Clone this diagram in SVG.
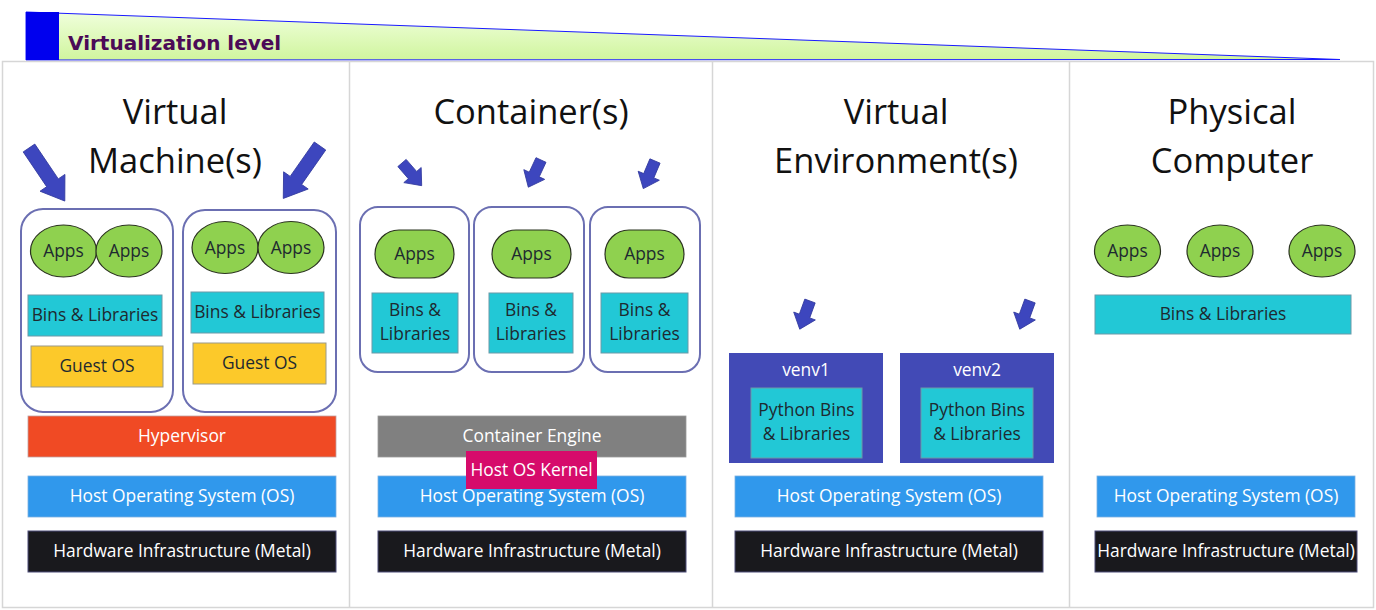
<svg xmlns="http://www.w3.org/2000/svg" width="1376" height="610" viewBox="0 0 1376 610">
<defs>
<linearGradient id="lvl" x1="0" y1="0" x2="0" y2="1">
<stop offset="0" stop-color="#f0ffdc"/>
<stop offset="1" stop-color="#d0f59e"/>
</linearGradient>
<path id="bigArrow" d="M0,-7 L42,-7 L42,-15 L64,0 L42,15 L42,7 L0,7 Z"/>
<path id="smallArrow" d="M0,-5.5 L16,-5.5 L16,-11.5 L30,0 L16,11.5 L16,5.5 L0,5.5 Z"/>
</defs>
<style>
.title{font-family:"Open Sans","Liberation Sans",sans-serif;font-size:34.5px;fill:#111;text-anchor:middle}
.lbl{font-family:"Open Sans","Liberation Sans",sans-serif;font-size:17.4px;fill:#1e2a30;text-anchor:middle}
.wlbl{font-family:"Open Sans","Liberation Sans",sans-serif;font-size:17.4px;fill:#ffffff;text-anchor:middle}
.apps{fill:#8fd14f;stroke:#2b3320;stroke-width:1.2}
.bins{fill:#22c8d6;stroke:#6a9aa8;stroke-width:1}
.guest{fill:#fcc92a;stroke:#9a9a8a;stroke-width:1}
.hyper{fill:#f04a24;stroke:#c0a0a0;stroke-width:0.8}
.hostos{fill:#3098ec;stroke:#7ab0e0;stroke-width:0.8}
.metal{fill:#19191d;stroke:#4c4c78;stroke-width:1}
.engine{fill:#808080;stroke:#9a9a9a;stroke-width:0.8}
.kernel{fill:#d60b6b}
.venv{fill:#424ab6}
.cbox{fill:none;stroke:#6b6fb2;stroke-width:2}
.arrow{fill:#3d46be;stroke:#323a9e;stroke-width:0.8}
.panel{fill:#ffffff;stroke:#d6d6d6;stroke-width:1.5}
</style>

<g id="virtualization-level">
<polygon points="26,12 1340,59.5 26,60" fill="url(#lvl)" stroke="#1a1aff" stroke-width="1"/>
<rect x="26" y="12" width="33" height="48" fill="#0000ee"/>
<text x="68" y="50" font-family="DejaVu Sans, sans-serif" font-weight="bold" font-size="20" fill="#4b0a57">Virtualization level</text>
</g>

<g id="panels">
<rect class="panel" x="2.5" y="61.5" width="1371" height="546"/>
<line x1="349.5" y1="61.5" x2="349.5" y2="607.5" stroke="#d6d6d6" stroke-width="1.5"/>
<line x1="712.5" y1="61.5" x2="712.5" y2="607.5" stroke="#d6d6d6" stroke-width="1.5"/>
<line x1="1069.5" y1="61.5" x2="1069.5" y2="607.5" stroke="#d6d6d6" stroke-width="1.5"/>
</g>

<g id="titles">
<text class="title" x="175" y="124">Virtual</text>
<text class="title" x="175" y="173">Machine(s)</text>
<text class="title" x="531" y="124">Container(s)</text>
<text class="title" x="896" y="124">Virtual</text>
<text class="title" x="896" y="173">Environment(s)</text>
<text class="title" x="1232" y="124">Physical</text>
<text class="title" x="1232" y="173">Computer</text>
</g>

<!-- Virtual Machines -->
<g id="vm1">
<rect class="cbox" x="21" y="209" width="152" height="203" rx="22"/>
<ellipse class="apps" cx="63.5" cy="251" rx="33" ry="26"/>
<text class="lbl" x="63.5" y="257">Apps</text>
<ellipse class="apps" cx="129" cy="251" rx="33" ry="26"/>
<text class="lbl" x="129" y="257">Apps</text>
<rect class="bins" x="28" y="295" width="134" height="41"/>
<text class="lbl" x="95" y="321">Bins &amp; Libraries</text>
<rect class="guest" x="31" y="346" width="132" height="41"/>
<text class="lbl" x="97" y="372">Guest OS</text>
</g>
<g id="vm2">
<rect class="cbox" x="183" y="210" width="153" height="202" rx="22"/>
<ellipse class="apps" cx="225" cy="247.5" rx="33" ry="26"/>
<text class="lbl" x="225" y="253.5">Apps</text>
<ellipse class="apps" cx="291" cy="247.5" rx="33" ry="26"/>
<text class="lbl" x="291" y="253.5">Apps</text>
<rect class="bins" x="191" y="292" width="133" height="41"/>
<text class="lbl" x="257.5" y="318">Bins &amp; Libraries</text>
<rect class="guest" x="193" y="343" width="133" height="41"/>
<text class="lbl" x="259.5" y="369">Guest OS</text>
</g>
<g id="hypervisor">
<rect class="hyper" x="28" y="416" width="308" height="41"/>
<text class="wlbl" x="182" y="442">Hypervisor</text>
</g>
<g id="vm-hostos">
<rect class="hostos" x="28" y="476" width="308" height="41"/>
<text class="wlbl" x="182" y="502">Host Operating System (OS)</text>
</g>
<g id="vm-metal">
<rect class="metal" x="28" y="531" width="308" height="41"/>
<text class="wlbl" x="182" y="557">Hardware Infrastructure (Metal)</text>
</g>

<!-- Containers -->
<g id="container1">
<rect class="cbox" x="360" y="207" width="109" height="165" rx="18"/>
<rect class="apps" x="375" y="230" width="79" height="48" rx="24"/>
<text class="lbl" x="414.5" y="260">Apps</text>
<rect class="bins" x="372" y="293" width="86" height="60"/>
<text class="lbl" x="415" y="316">Bins &amp;</text>
<text class="lbl" x="415" y="340">Libraries</text>
</g>
<g id="container2">
<rect class="cbox" x="474" y="207" width="110" height="165" rx="18"/>
<rect class="apps" x="492" y="230" width="79" height="48" rx="24"/>
<text class="lbl" x="531.5" y="260">Apps</text>
<rect class="bins" x="489" y="293" width="84" height="60"/>
<text class="lbl" x="531" y="316">Bins &amp;</text>
<text class="lbl" x="531" y="340">Libraries</text>
</g>
<g id="container3">
<rect class="cbox" x="590" y="207" width="110" height="165" rx="18"/>
<rect class="apps" x="605" y="230" width="79" height="48" rx="24"/>
<text class="lbl" x="644.5" y="260">Apps</text>
<rect class="bins" x="601" y="293" width="87" height="60"/>
<text class="lbl" x="644.5" y="316">Bins &amp;</text>
<text class="lbl" x="644.5" y="340">Libraries</text>
</g>
<g id="container-engine">
<rect class="engine" x="378" y="416" width="308" height="41"/>
<text class="wlbl" x="532" y="442">Container Engine</text>
</g>
<g id="container-hostos">
<rect class="hostos" x="378" y="476" width="308" height="41"/>
<text class="wlbl" x="532" y="502">Host Operating System (OS)</text>
</g>
<g id="host-os-kernel">
<rect class="kernel" x="466" y="451" width="131" height="38"/>
<text class="wlbl" x="531.5" y="476">Host OS Kernel</text>
</g>
<g id="container-metal">
<rect class="metal" x="378" y="531" width="308" height="41"/>
<text class="wlbl" x="532" y="557">Hardware Infrastructure (Metal)</text>
</g>

<!-- Virtual Environments -->
<g id="venv1">
<rect class="venv" x="729" y="353" width="154" height="110"/>
<text class="wlbl" x="806" y="376">venv1</text>
<rect class="bins" x="751" y="388" width="111" height="70"/>
<text class="lbl" x="806.5" y="416">Python Bins</text>
<text class="lbl" x="806.5" y="440">&amp; Libraries</text>
</g>
<g id="venv2">
<rect class="venv" x="900" y="353" width="154" height="110"/>
<text class="wlbl" x="977" y="376">venv2</text>
<rect class="bins" x="921" y="388" width="112" height="70"/>
<text class="lbl" x="977" y="416">Python Bins</text>
<text class="lbl" x="977" y="440">&amp; Libraries</text>
</g>
<g id="venv-hostos">
<rect class="hostos" x="735" y="476" width="308" height="41"/>
<text class="wlbl" x="889" y="502">Host Operating System (OS)</text>
</g>
<g id="venv-metal">
<rect class="metal" x="735" y="531" width="308" height="41"/>
<text class="wlbl" x="889" y="557">Hardware Infrastructure (Metal)</text>
</g>

<!-- Physical Computer -->
<g id="phys-apps1">
<ellipse class="apps" cx="1127.5" cy="251" rx="33" ry="26"/>
<text class="lbl" x="1127.5" y="257">Apps</text>
</g>
<g id="phys-apps2">
<ellipse class="apps" cx="1220" cy="251" rx="33" ry="26"/>
<text class="lbl" x="1220" y="257">Apps</text>
</g>
<g id="phys-apps3">
<ellipse class="apps" cx="1322" cy="251" rx="33" ry="26"/>
<text class="lbl" x="1322" y="257">Apps</text>
</g>
<g id="phys-bins">
<rect class="bins" x="1095" y="295" width="256" height="39"/>
<text class="lbl" x="1223" y="320">Bins &amp; Libraries</text>
</g>
<g id="phys-hostos">
<rect class="hostos" x="1097" y="476" width="258" height="41"/>
<text class="wlbl" x="1226" y="502">Host Operating System (OS)</text>
</g>
<g id="phys-metal">
<rect class="metal" x="1095" y="531" width="262" height="41"/>
<text class="wlbl" x="1226" y="557">Hardware Infrastructure (Metal)</text>
</g>

<g id="connectors">
<use href="#bigArrow" class="arrow" transform="translate(29,148) rotate(56)"/>
<use href="#bigArrow" class="arrow" transform="translate(320,146) rotate(125)"/>
<use href="#smallArrow" class="arrow" transform="translate(402,163) rotate(49)"/>
<use href="#smallArrow" class="arrow" transform="translate(541,160) rotate(115)"/>
<use href="#smallArrow" class="arrow" transform="translate(655,161) rotate(113)"/>
<use href="#smallArrow" class="arrow" transform="translate(810,301) rotate(110)"/>
<use href="#smallArrow" class="arrow" transform="translate(1030,301) rotate(110)"/>
</g>
</svg>
